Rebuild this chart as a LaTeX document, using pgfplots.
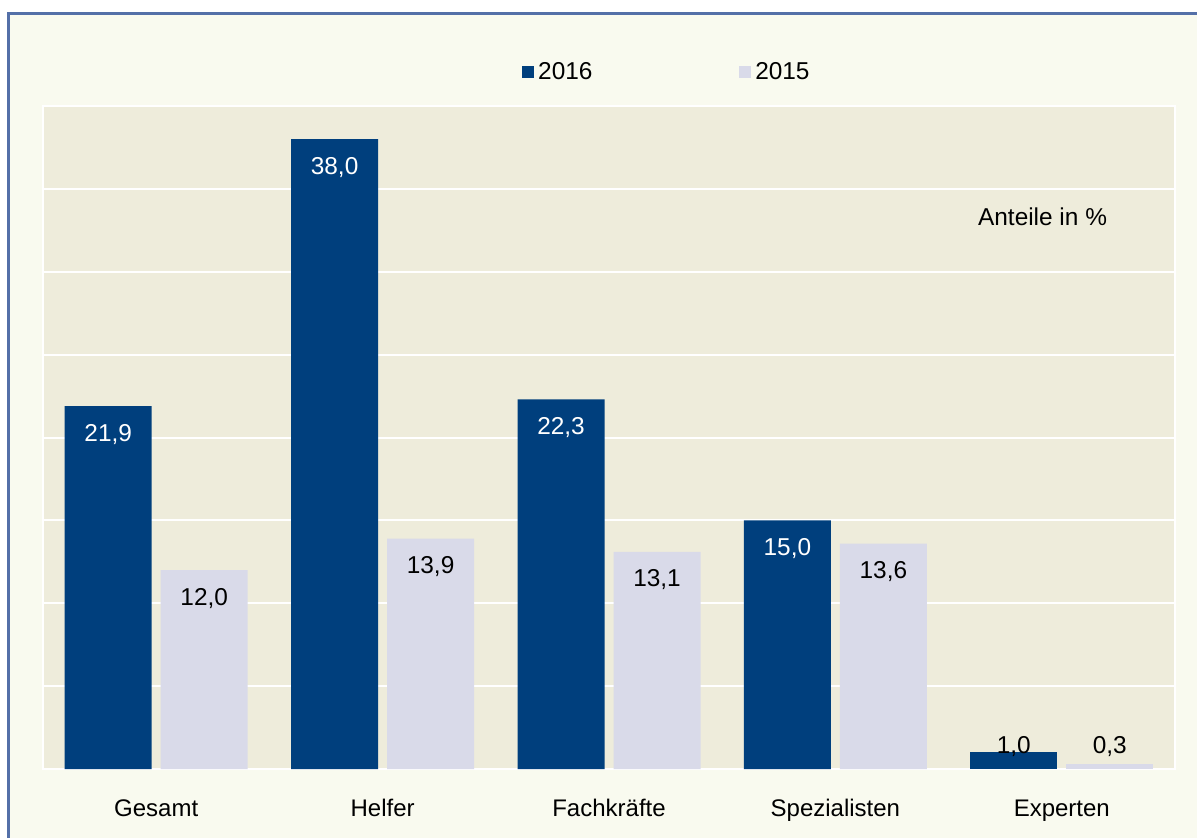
\documentclass[border=0pt]{standalone}
\usepackage{pgfplots}
\pgfplotsset{compat=1.18}
\usepackage{fontspec}
\setmainfont{Liberation Sans}
\definecolor{outerbg}{RGB}{249,250,239}
\definecolor{plotbg}{RGB}{238,236,219}
\definecolor{darkbar}{RGB}{0,63,125}
\definecolor{lightbar}{RGB}{217,218,233}
\definecolor{framec}{RGB}{84,112,168}
\begin{document}
\begin{tikzpicture}
\path[use as bounding box] (0,0) rectangle (598.5pt,418.5pt);
\fill[white] (0,0) rectangle (598.5pt,418.5pt);
\draw[framec, line width=1.25pt, fill=outerbg] (4.25pt,-5pt) rectangle (605pt,411.75pt);
\begin{axis}[
  at={(21.5pt,34pt)}, anchor=south west,
  width=566pt, height=331.5pt, scale only axis,
  ybar, bar width=43.5pt,
  xmin=-0.5, xmax=4.5, ymin=0, ymax=40,
  xtick={0,1,2,3,4},
  xticklabels={Gesamt,Helfer,Fachkräfte,Spezialisten,Experten},
  xticklabel style={anchor=base, yshift=-19.25pt, font=\fontsize{12}{14}\selectfont},
  ytick={0,5,...,40}, yticklabels={},
  ymajorgrids, major grid style={white, line width=1pt},
  tick style={draw=none},
  axis line style={white, line width=1pt},
  axis background/.style={fill=plotbg},
  /pgf/number format/assume math mode=true,
  legend columns=2,
  legend style={draw=none, fill=none, at={(0.552,1.051)}, anchor=center,
    font=\fontsize{12.2}{14}\selectfont,
    /tikz/every even column/.append style={column sep=71pt},
    nodes={inner sep=2.2pt}},
  legend image code/.code={\fill[#1] (0pt,-3pt) rectangle (6pt,3pt);},
  nodes near coords={\pgfmathprintnumber[fixed,fixed zerofill,precision=1,use comma]{\pgfplotspointmeta}},
  every node near coord/.append style={anchor=base, yshift=-17.5pt, font=\fontsize{12.2}{14}\selectfont},
]
\addplot[fill=darkbar, draw=none, bar shift=-24pt, every node near coord/.append style={text=white}]
  coordinates {(0,21.9) (1,38.0) (2,22.3) (3,15.0)};
\addplot[fill=lightbar, draw=none, bar shift=24pt, every node near coord/.append style={text=black}]
  coordinates {(0,12.0) (1,13.9) (2,13.1) (3,13.6)};
\legend{2016,2015}
\addplot[fill=darkbar, draw=none, bar shift=-24pt, every node near coord/.append style={text=black, yshift=17pt}]
  coordinates {(4,1.0)};
\addplot[fill=lightbar, draw=none, bar shift=24pt, every node near coord/.append style={text=black, yshift=22.75pt}]
  coordinates {(4,0.3)};
\node[font=\fontsize{12.2}{14}\selectfont] at (rel axis cs:0.883,0.833) {Anteile in \%};
\end{axis}
\end{tikzpicture}
\end{document}
